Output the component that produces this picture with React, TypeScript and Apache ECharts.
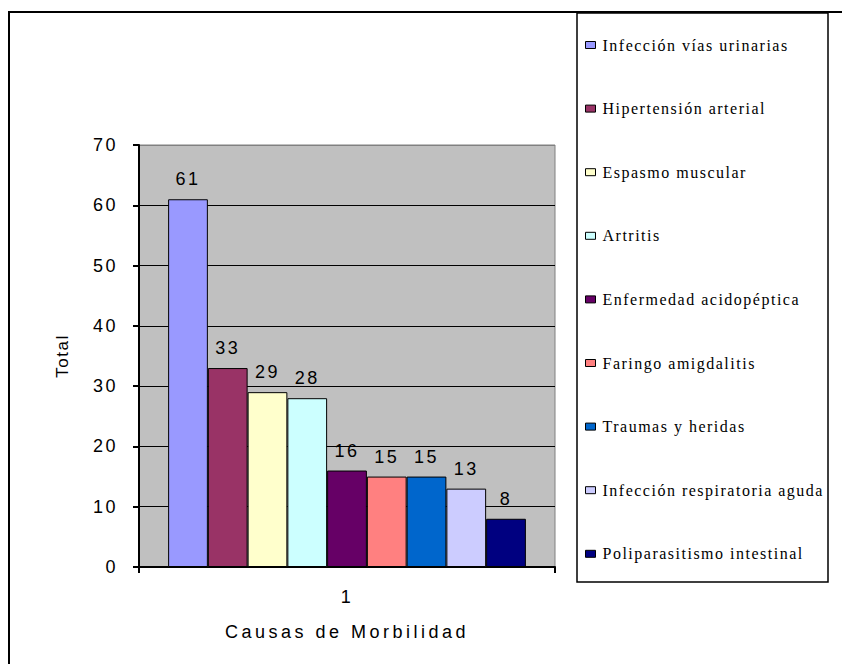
import React, { useEffect, useRef } from "react";
import * as echarts from "echarts";

const categories = ["1"];
const seriesNames = [
  "Infección vías urinarias",
  "Hipertensión arterial",
  "Espasmo muscular",
  "Artritis",
  "Enfermedad acidopéptica",
  "Faringo amigdalitis",
  "Traumas y heridas",
  "Infección respiratoria aguda",
  "Poliparasitismo intestinal",
];
const seriesValues = [61, 33, 29, 28, 16, 15, 15, 13, 8];
const seriesColors = [
  "#9999FF",
  "#993366",
  "#FFFFCC",
  "#CCFFFF",
  "#660066",
  "#FF8080",
  "#0066CC",
  "#CCCCFF",
  "#000080",
];
const yTicks = { min: 0, max: 70, interval: 10 };
const xAxisName = "Causas de Morbilidad";
const yAxisName = "Total";

const SANS = "Liberation Sans";
const SERIF = "Liberation Serif";

function applySpacing(root: HTMLElement) {
  const texts = root.querySelectorAll("text");
  texts.forEach((t) => {
    const s = (t.textContent || "").trim();
    let sp = 2.5;
    if (seriesNames.includes(s)) sp = 1.5;
    else if (s === xAxisName) sp = 3.5;
    else if (s === yAxisName) sp = 1.5;
    t.setAttribute("letter-spacing", String(sp));
  });
}

export default function App() {
  const ref = useRef<HTMLDivElement>(null);
  useEffect(() => {
    if (!ref.current) return;
    const chart = echarts.init(ref.current, null, { renderer: "svg" });
    const splitColors = ["#000", "#000", "#000", "#000", "#000", "#000", "#000", "#808080"];
    const option: any = {
      animation: false,
      backgroundColor: "#ffffff",
      grid: {
        left: 139,
        right: 287,
        top: 145,
        bottom: 97,
        show: true,
        backgroundColor: "#C0C0C0",
        borderColor: "#808080",
        borderWidth: 1,
      },
      legend: {
        orient: "vertical",
        left: 585,
        top: 37,
        padding: 0,
        itemGap: 47.6,
        itemWidth: 10,
        itemHeight: 7,
        icon: "rect",
        selectedMode: false,
        data: seriesNames,
        itemStyle: { borderColor: "#000", borderWidth: 1 },
        textStyle: {
          fontFamily: SERIF,
          fontSize: 16,
          color: "#000",
          lineHeight: 16,
          padding: [0, 0, 0, 2],
        },
      },
      xAxis: {
        type: "category",
        data: categories,
        name: xAxisName,
        nameLocation: "middle",
        nameGap: 56,
        nameTextStyle: { fontFamily: SANS, fontSize: 18, color: "#000" },
        axisLine: { lineStyle: { color: "#000", width: 2 } },
        axisTick: { show: true, length: 6, lineStyle: { color: "#000", width: 2 } },
        axisLabel: { fontFamily: SANS, fontSize: 18, color: "#000", margin: 21 },
        splitLine: { show: false },
      },
      yAxis: {
        type: "value",
        min: yTicks.min,
        max: yTicks.max,
        interval: yTicks.interval,
        name: yAxisName,
        nameLocation: "middle",
        nameGap: 68,
        nameRotate: 90,
        nameTextStyle: { fontFamily: SANS, fontSize: 17, color: "#000" },
        axisLine: { show: true, lineStyle: { color: "#000", width: 2 } },
        axisTick: { show: true, length: 6, lineStyle: { color: "#000", width: 2 } },
        axisLabel: { fontFamily: SANS, fontSize: 18, color: "#000", margin: 21 },
        splitLine: { show: true, lineStyle: { color: splitColors, width: 1 } },
      },
      series: seriesNames.map((name, i) => ({
        name,
        type: "bar",
        data: [seriesValues[i]],
        barGap: "0%",
        barCategoryGap: "14%",
        itemStyle: {
          color: seriesColors[i],
          borderColor: "#000",
          borderWidth: 1,
        },
        label: {
          show: true,
          position: "top",
          distance: 11,
          fontFamily: SANS,
          fontSize: 18,
          color: "#000",
        },
      })),
      graphic: [
        {
          type: "polyline",
          shape: { points: [[9, 664], [9, 12], [842, 12]] },
          style: { stroke: "#000", lineWidth: 2, fill: "none" },
          silent: true,
        },
        {
          type: "rect",
          shape: { x: 577, y: 13, width: 251, height: 569 },
          style: { stroke: "#000", lineWidth: 1.5, fill: "none" },
          silent: true,
        },
      ],
    };
    chart.setOption(option);
    const el = ref.current;
    applySpacing(el);
    const onFinished = () => applySpacing(el);
    chart.on("finished", onFinished);
    return () => {
      chart.off("finished", onFinished);
      chart.dispose();
    };
  }, []);
  return (
    <div
      ref={ref}
      style={{ position: "absolute", left: 0, top: 0, width: 842, height: 664 }}
    />
  );
}
